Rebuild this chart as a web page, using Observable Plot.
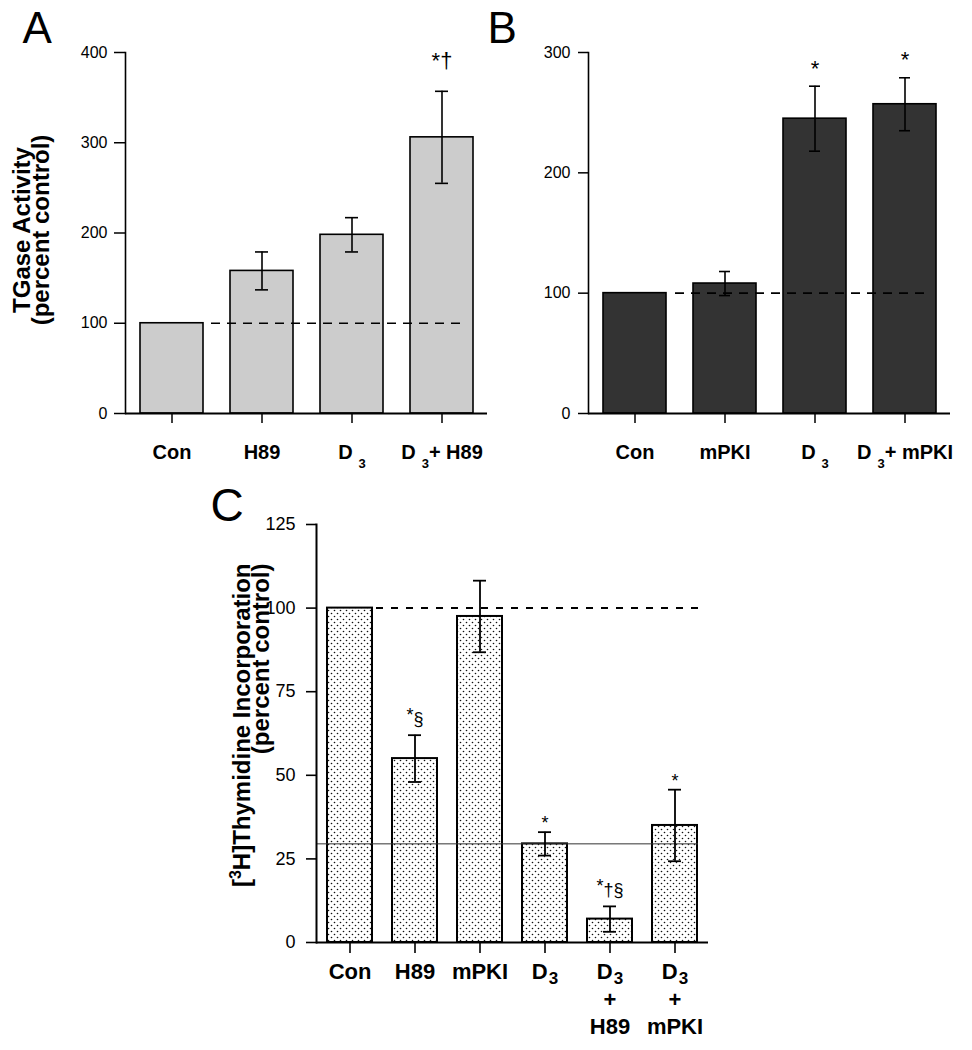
<!DOCTYPE html>
<html><head><meta charset="utf-8">
<script src="https://cdn.jsdelivr.net/npm/d3@7"></script>
<script src="https://cdn.jsdelivr.net/npm/@observablehq/plot@0.6"></script>
<style>
body{margin:0;background:#fff;}
#root{position:relative;width:972px;height:1050px;overflow:hidden;background:#fff;}
#root svg{position:absolute;}
</style></head><body><div id="root"></div>
<script>
// ---------- data ----------
// Panel A: TGase activity, H89
const catsA = ["Con", "H89", "D_3", "D_3+ H89"];
const meanA = [100, 158, 198, 306];
const seA   = [0, 21, 19, 51];
const sigA  = ["", "", "", "*†"];
const ticksA = [0, 100, 200, 300, 400];
const titleA = ["TGase Activity", "(percent control)"];

// Panel B: TGase activity, mPKI
const catsB = ["Con", "mPKI", "D_3", "D_3+ mPKI"];
const meanB = [100, 108, 245, 257];
const seB   = [0, 10, 27, 22];
const sigB  = ["", "", "*", "*"];
const ticksB = [0, 100, 200, 300];

// Panel C: [3H]thymidine incorporation
const catsC = ["Con", "H89", "mPKI", "D_3", "D_3\n+\nH89", "D_3\n+\nmPKI"];
const meanC = [100, 55, 97.5, 29.5, 7, 35];
const seC   = [0, 7, 10.7, 3.5, 3.8, 10.7];
const sigC  = ["", "^*§", "", "*", "^*†§", "*"];
const ticksC = [0, 25, 50, 75, 100, 125];
const titleC = ["[^3H]Thymidine Incorporation", "(percent control)"];

const letters = ["A", "B", "C"];
const controlLevel = 100;

// ---------- helpers ----------
const FONT = "'Liberation Sans', Arial, Helvetica, sans-serif";
const NS = "http://www.w3.org/2000/svg";
const root = document.getElementById("root");

function rows(cats, mean, se, sig) {
  return cats.map((c, i) => ({cat: c, mean: mean[i], se: se[i], sig: sig[i]}));
}

// turn "_3" into a subscript 3 and "^x" into a raised x
function rich(svg, o) {
  const walker = document.createTreeWalker(svg, NodeFilter.SHOW_TEXT);
  const nodes = [];
  while (walker.nextNode()) nodes.push(walker.currentNode);
  for (const node of nodes) {
    const s = node.nodeValue;
    if (!/[_^]/.test(s)) continue;
    const parent = node.parentNode;
    const frag = document.createDocumentFragment();
    const re = /([_^])(.)/g;
    let last = 0, m;
    while ((m = re.exec(s))) {
      if (m.index > last) frag.appendChild(document.createTextNode(s.slice(last, m.index)));
      const t = document.createElementNS(NS, "tspan");
      if (m[1] === "_") {
        t.setAttribute("font-size", o.subSize);
        t.setAttribute("baseline-shift", -o.subShift);
        if (o.subDx) t.setAttribute("dx", o.subDx);
      } else if (m[2] === "*") {
        t.setAttribute("baseline-shift", o.starShift || 0);
      } else {
        t.setAttribute("font-size", o.supSize);
        t.setAttribute("baseline-shift", o.supShift);
      }
      t.textContent = m[2];
      frag.appendChild(t);
      last = re.lastIndex;
    }
    if (last < s.length) frag.appendChild(document.createTextNode(s.slice(last)));
    parent.replaceChild(frag, node);
  }
}

function place(svg, left, top) {
  svg.style.left = left + "px";
  svg.style.top = top + "px";
  root.appendChild(svg);
}

const baseStyle = {fontFamily: FONT, background: "transparent", color: "black", overflow: "visible"};

// ---------- Panel A ----------
{
  const data = rows(catsA, meanA, seA, sigA);
  const err = data.filter(d => d.se > 0);
  const svg = Plot.plot({
    width: 490, height: 480,
    marginLeft: 125, marginRight: 3, marginTop: 52, marginBottom: 67,
    style: baseStyle,
    x: {domain: catsA, paddingInner: 0.3, paddingOuter: 0.16, axis: null},
    y: {domain: [0, 400], axis: null},
    marks: [
      Plot.barY(data, {x: "cat", y: "mean", fill: "#cccccc", stroke: "black", strokeWidth: 1.6}),
      Plot.ruleY([controlLevel], {strokeDasharray: "9,7", strokeWidth: 1.6, insetLeft: 86, insetRight: 22}),
      Plot.ruleX(err, {x: "cat", y1: d => d.mean - d.se, y2: d => d.mean + d.se, strokeWidth: 1.6}),
      Plot.tickY(err, {x: "cat", y: d => d.mean + d.se, inset: 25, strokeWidth: 1.6}),
      Plot.tickY(err, {x: "cat", y: d => d.mean - d.se, inset: 25, strokeWidth: 1.6}),
      Plot.text(data.filter(d => d.sig), {x: "cat", y: d => d.mean + d.se, text: "sig", lineAnchor: "bottom", dy: -23, fontSize: 22}),
      Plot.ruleY([0], {strokeWidth: 2}),
      Plot.frame({anchor: "left", strokeWidth: 1.6}),
      Plot.axisY({ticks: ticksA, tickSize: 11, tickPadding: 7, fontSize: 16, strokeWidth: 1.5, label: null}),
      Plot.axisX({tickSize: 10, tickPadding: 21, fontSize: 20, fontWeight: "bold", strokeWidth: 1.5, label: null}),
      Plot.text([letters[0]], {frameAnchor: "top-left", textAnchor: "start", lineAnchor: "bottom", dx: -103, dy: -10, fontSize: 44}),
      Plot.text([titleA[0]], {frameAnchor: "left", rotate: -90, textAnchor: "middle", lineAnchor: "bottom", dx: -96, dy: -3, fontSize: 24, fontWeight: "bold"}),
      Plot.text([titleA[1]], {frameAnchor: "left", rotate: -90, textAnchor: "middle", lineAnchor: "bottom", dx: -77, dy: -3, fontSize: 24, fontWeight: "bold"})
    ]
  });
  rich(svg, {subSize: 13, subShift: 9, subDx: 6});
  place(svg, 0, 0);
}

// ---------- Panel B ----------
{
  const data = rows(catsB, meanB, seB, sigB);
  const err = data.filter(d => d.se > 0);
  const svg = Plot.plot({
    width: 482, height: 480,
    marginLeft: 98, marginRight: 22, marginTop: 52, marginBottom: 67,
    style: baseStyle,
    x: {domain: catsB, paddingInner: 0.3, paddingOuter: 0.16, axis: null},
    y: {domain: [0, 300], axis: null},
    marks: [
      Plot.barY(data, {x: "cat", y: "mean", fill: "#333333", stroke: "black", strokeWidth: 1.6}),
      Plot.ruleY([controlLevel], {strokeDasharray: "9,7", strokeWidth: 1.6, insetLeft: 87, insetRight: 22}),
      Plot.ruleX(err, {x: "cat", y1: d => d.mean - d.se, y2: d => d.mean + d.se, strokeWidth: 1.6}),
      Plot.tickY(err, {x: "cat", y: d => d.mean + d.se, inset: 26, strokeWidth: 1.6}),
      Plot.tickY(err, {x: "cat", y: d => d.mean - d.se, inset: 26, strokeWidth: 1.6}),
      Plot.text(data.filter(d => d.sig), {x: "cat", y: d => d.mean + d.se, text: "sig", lineAnchor: "bottom", dy: -10.5, fontSize: 22}),
      Plot.ruleY([0], {strokeWidth: 2}),
      Plot.frame({anchor: "left", strokeWidth: 1.6}),
      Plot.axisY({ticks: ticksB, tickSize: 10, tickPadding: 8, fontSize: 16, strokeWidth: 1.5, label: null}),
      Plot.axisX({tickSize: 10, tickPadding: 21, fontSize: 20, fontWeight: "bold", strokeWidth: 1.5, label: null}),
      Plot.text([letters[1]], {frameAnchor: "top-left", textAnchor: "start", lineAnchor: "bottom", dx: -101, dy: -10, fontSize: 44})
    ]
  });
  rich(svg, {subSize: 13, subShift: 9, subDx: 6});
  place(svg, 490, 0);
}

// ---------- Panel C ----------
{
  const data = rows(catsC, meanC, seC, sigC);
  const err = data.filter(d => d.se > 0);
  const svg = Plot.plot({
    width: 972, height: 570,
    marginLeft: 316, marginRight: 264, marginTop: 44, marginBottom: 108,
    style: baseStyle,
    x: {domain: catsC, paddingInner: 0.31, paddingOuter: 0.17, axis: null},
    y: {domain: [0, 125], axis: null},
    marks: [
      Plot.barY(data, {x: "cat", y: "mean", fill: "url(#dotsC)", stroke: "black", strokeWidth: 2}),
      Plot.ruleY([controlLevel], {strokeDasharray: "7,8", strokeWidth: 2, insetLeft: 60, insetRight: 10}),
      Plot.ruleY([meanC[3]], {stroke: "#333", strokeWidth: 1, insetRight: 10}),
      Plot.ruleX(err, {x: "cat", y1: d => d.mean - d.se, y2: d => d.mean + d.se, strokeWidth: 1.8}),
      Plot.tickY(err, {x: "cat", y: d => d.mean + d.se, inset: 16, strokeWidth: 1.8}),
      Plot.tickY(err, {x: "cat", y: d => d.mean - d.se, inset: 16, strokeWidth: 1.8}),
      Plot.text(data.filter(d => d.sig.length > 1), {x: "cat", y: d => d.mean + d.se, text: "sig", lineAnchor: "bottom", dy: -10, fontSize: 18}),
      Plot.text(data.filter(d => d.sig.length === 1), {x: "cat", y: d => d.mean + d.se, text: "sig", lineAnchor: "bottom", dy: -3, fontSize: 18}),
      Plot.ruleY([0], {strokeWidth: 2}),
      Plot.frame({anchor: "left", strokeWidth: 2}),
      Plot.axisY({ticks: ticksC, tickSize: 10, tickPadding: 11, fontSize: 18, strokeWidth: 1.6, label: null}),
      Plot.axisX({tickSize: 11, tickPadding: 6, fontSize: 22, fontWeight: "bold", lineHeight: 1.25, strokeWidth: 1.6, label: null}),
      Plot.text([letters[2]], {frameAnchor: "top-left", textAnchor: "start", lineAnchor: "bottom", dx: -106, dy: -4, fontSize: 46}),
      Plot.text([titleC[0]], {frameAnchor: "top-left", rotate: -90, textAnchor: "end", lineAnchor: "bottom", dx: -67, dy: 39, fontSize: 24, fontWeight: "bold"}),
      Plot.text([titleC[1]], {frameAnchor: "top-left", rotate: -90, textAnchor: "end", lineAnchor: "bottom", dx: -48, dy: 39, fontSize: 24, fontWeight: "bold"})
    ]
  });
  const defs = document.createElementNS(NS, "defs");
  defs.innerHTML = '<pattern id="dotsC" width="6" height="6" patternUnits="userSpaceOnUse">' +
    '<rect width="6" height="6" fill="white"/>' +
    '<circle cx="1.5" cy="1.5" r="0.8" fill="#111"/>' +
    '<circle cx="4.5" cy="4.5" r="0.8" fill="#111"/></pattern>';
  svg.insertBefore(defs, svg.firstChild);
  rich(svg, {subSize: 17, subShift: 5, subDx: 1, supSize: 16, supShift: 9, starShift: 4});
  place(svg, 0, 480);
}
</script>
</body></html>
